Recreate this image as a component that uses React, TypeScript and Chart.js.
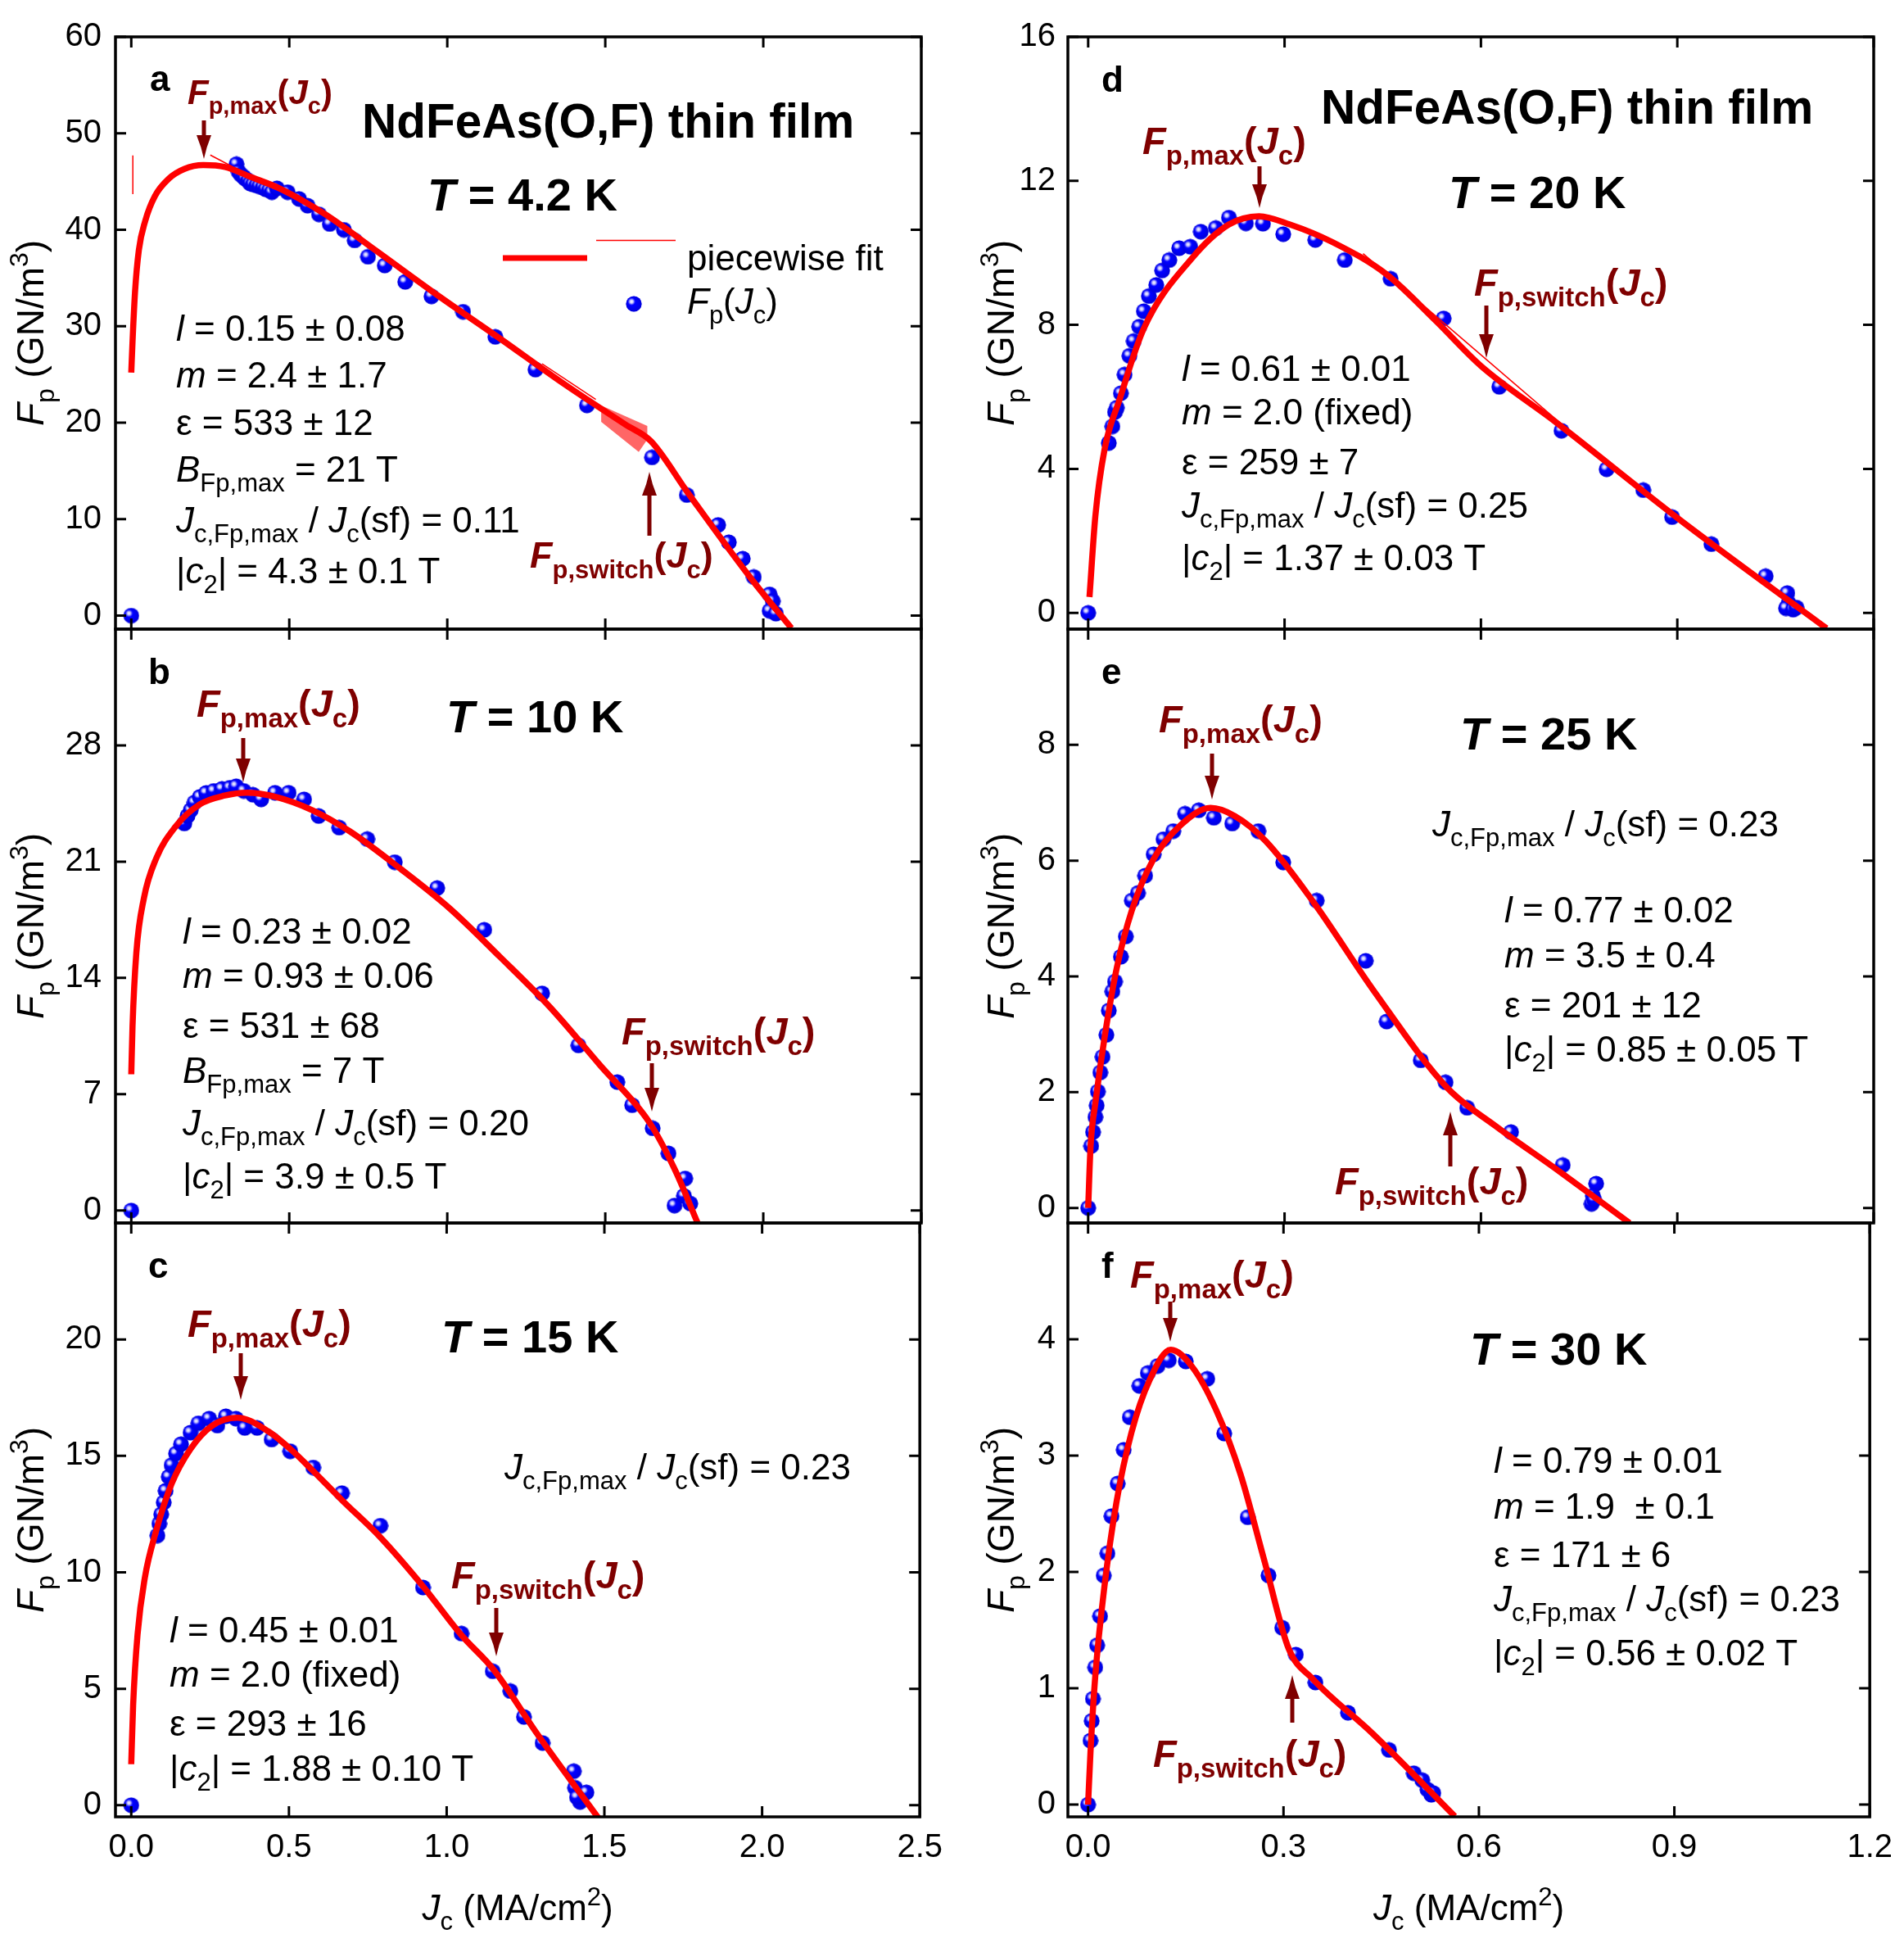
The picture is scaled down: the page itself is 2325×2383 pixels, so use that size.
import React, { useEffect, useRef } from 'react';
import { Chart, registerables } from 'chart.js';

Chart.register(...registerables);

const FONT = '"Liberation Sans", Arial, Helvetica, sans-serif';
const RED = '#ff0000';
const DARK_RED = '#7f0000';

// ---------------- data ----------------
const xTicksLeft = [0, 0.5, 1.0, 1.5, 2.0, 2.5];
const xTicksRight = [0, 0.3, 0.6, 0.9, 1.2];

const aYTicks = [0, 10, 20, 30, 40, 50, 60];
const bYTicks = [0, 7, 14, 21, 28];
const cYTicks = [0, 5, 10, 15, 20];
const dYTicks = [0, 4, 8, 12, 16];
const eYTicks = [0, 2, 4, 6, 8];
const fYTicks = [0, 1, 2, 3, 4];

// panel a, T = 4.2 K
const aPoints = [
  [0, 0], [0.333, 46.8], [0.34, 46.0], [0.347, 45.7], [0.355, 45.5], [0.36, 45.3], [0.37, 45.1],
  [0.376, 44.8], [0.385, 44.7], [0.396, 44.6], [0.405, 44.5], [0.416, 44.4], [0.425, 44.2],
  [0.436, 44.1], [0.445, 43.9], [0.461, 44.3], [0.495, 43.9], [0.531, 43.2], [0.558, 42.5],
  [0.594, 41.6], [0.628, 40.6], [0.673, 40.0], [0.707, 38.9], [0.749, 37.2], [0.802, 36.3],
  [0.867, 34.6], [0.95, 33.1], [1.05, 31.5], [1.152, 28.9], [1.279, 25.5], [1.442, 21.8],
  [1.648, 16.4], [1.758, 12.5], [1.857, 9.4], [1.891, 7.6], [1.935, 5.9], [1.97, 4.0],
  [2.02, 2.2], [2.03, 1.5], [2.02, 0.5], [2.04, 0.2],
];
const aFit = [
  [0, 25.2], [0.004, 28.4], [0.012, 33.6], [0.024, 37.9], [0.044, 40.9], [0.075, 43.5],
  [0.119, 45.3], [0.168, 46.3], [0.228, 46.7], [0.297, 46.5], [0.376, 45.5], [0.475, 44.2],
  [0.614, 41.6], [0.772, 37.9], [0.97, 33.2], [1.168, 28.7], [1.366, 24.1], [1.564, 19.8],
  [1.644, 18.1], [1.762, 12.7], [1.96, 3.9], [2.089, -1.3],
];
const aThin1 = [[0.005, 43.7], [0.005, 47.7]];
const aThin2 = [[0.25, 47.75], [0.319, 46.56]];
const aThin3 = [[1.3, 26.1], [1.47, 22.4]];
const aFan = [[1.487, 21.79], [1.633, 19.67], [1.633, 18.25], [1.606, 16.97], [1.487, 20.09]];

// panel b, T = 10 K
const bPoints = [
  [0, 0], [0.168, 23.3], [0.178, 23.75], [0.188, 24.1], [0.2, 24.56], [0.217, 24.9],
  [0.237, 25.14], [0.261, 25.26], [0.287, 25.38], [0.312, 25.45], [0.332, 25.54],
  [0.356, 25.26], [0.385, 25.03], [0.411, 24.75], [0.455, 25.15], [0.498, 25.15],
  [0.547, 24.75], [0.593, 23.75], [0.658, 23.05], [0.747, 22.36], [0.834, 20.97],
  [0.968, 19.41], [1.117, 16.9], [1.3, 13.07], [1.415, 9.94], [1.538, 7.73], [1.585, 6.34],
  [1.65, 4.95], [1.7, 3.44], [1.753, 1.93], [1.719, 0.3], [1.749, 0.88], [1.769, 0.42],
];
const bFit = [
  [0, 8.2], [0.004, 11.1], [0.016, 15.5], [0.04, 18.8], [0.079, 21.2], [0.138, 23.06],
  [0.217, 24.45], [0.296, 24.98], [0.366, 25.15], [0.455, 24.91], [0.573, 24.1],
  [0.692, 22.82], [0.85, 20.6], [1.008, 18.18], [1.166, 15.28], [1.324, 12.26],
  [1.482, 8.78], [1.64, 5.29], [1.719, 2.51], [1.792, -0.74],
];

// panel c, T = 15 K
const cPoints = [
  [0, 0], [0.083, 11.58], [0.089, 12.09], [0.095, 12.49], [0.103, 13.0], [0.109, 13.5],
  [0.119, 14.1], [0.128, 14.6], [0.142, 15.1], [0.158, 15.5], [0.188, 16.0], [0.213, 16.4],
  [0.247, 16.6], [0.273, 16.3], [0.3, 16.7], [0.332, 16.6], [0.36, 16.2], [0.399, 16.2],
  [0.445, 15.7], [0.504, 15.2], [0.577, 14.5], [0.668, 13.4], [0.79, 12.0], [0.925, 9.35],
  [1.047, 7.37], [1.146, 5.75], [1.202, 4.9], [1.245, 3.79], [1.304, 2.67], [1.403, 1.46],
  [1.407, 0.75], [1.443, 0.55], [1.423, 0.14], [1.413, 0.34],
];
const cFit = [
  [0, 1.76], [0.006, 4.29], [0.02, 7.33], [0.043, 9.76], [0.079, 11.78], [0.128, 13.8],
  [0.188, 15.3], [0.257, 16.3], [0.336, 16.64], [0.435, 16.05], [0.504, 15.3],
  [0.573, 14.4], [0.668, 13.1], [0.79, 11.5], [0.925, 9.4], [1.047, 7.3], [1.15, 5.8],
  [1.285, 3.1], [1.482, -0.57],
];

// panel d, T = 20 K
const dPoints = [
  [0, 0], [0.0315, 4.72], [0.037, 5.18], [0.041, 5.58], [0.0436, 5.7], [0.05, 6.1],
  [0.0556, 6.62], [0.063, 7.14], [0.0695, 7.55], [0.078, 7.95], [0.085, 8.38], [0.0927, 8.8],
  [0.104, 9.11], [0.113, 9.51], [0.124, 9.8], [0.139, 10.13], [0.156, 10.17], [0.172, 10.59],
  [0.195, 10.69], [0.215, 10.98], [0.241, 10.82], [0.267, 10.81], [0.298, 10.52],
  [0.347, 10.36], [0.392, 9.8], [0.462, 9.28], [0.543, 8.18], [0.628, 6.28], [0.723, 5.06],
  [0.792, 3.99], [0.848, 3.41], [0.892, 2.66], [0.952, 1.91], [1.035, 1.02], [1.068, 0.55],
  [1.07, 0.27], [1.066, 0.13], [1.077, 0.09], [1.082, 0.15],
];
const dFit = [
  [0.002, 0.44], [0.011, 2.69], [0.025, 4.54], [0.048, 5.93], [0.085, 7.9], [0.159, 9.86],
  [0.215, 10.79], [0.261, 11.02], [0.308, 10.79], [0.373, 10.3], [0.456, 9.4], [0.53, 8.13],
  [0.6, 6.86], [0.715, 5.29], [0.9, 2.64], [1.128, -0.43],
];
const dThin = [[0.42, 9.98], [0.79, 4.2]];

// panel e, T = 25 K
const ePoints = [
  [0, 0], [0.0046, 1.07], [0.0074, 1.31], [0.011, 1.57], [0.013, 1.77], [0.0148, 2.01],
  [0.0185, 2.34], [0.022, 2.61], [0.0278, 2.99], [0.0315, 3.41], [0.037, 3.74], [0.041, 3.91],
  [0.05, 4.34], [0.0575, 4.69], [0.0667, 5.31], [0.076, 5.44], [0.087, 5.74], [0.1, 6.11],
  [0.115, 6.37], [0.13, 6.51], [0.148, 6.81], [0.169, 6.87], [0.192, 6.74], [0.22, 6.64],
  [0.26, 6.51], [0.298, 5.97], [0.349, 5.31], [0.424, 4.27], [0.456, 3.22], [0.508, 2.55],
  [0.546, 2.17], [0.579, 1.73], [0.646, 1.31], [0.725, 0.74], [0.776, 0.42], [0.771, 0.21],
  [0.769, 0.07], [0.773, 0.14],
];
const eFit = [
  [0, 0], [0.0037, 1.07], [0.011, 1.81], [0.025, 2.94], [0.0436, 4.14], [0.0667, 5.14],
  [0.099, 6.01], [0.141, 6.61], [0.187, 6.91], [0.224, 6.77], [0.271, 6.34], [0.345, 5.27],
  [0.437, 3.74], [0.549, 2.07], [0.623, 1.41], [0.715, 0.67], [0.827, -0.26],
];

// panel f, T = 30 K
const fPoints = [
  [0, 0], [0.0037, 0.55], [0.0056, 0.72], [0.0074, 0.91], [0.011, 1.18], [0.0139, 1.37],
  [0.0185, 1.62], [0.024, 1.97], [0.0297, 2.16], [0.036, 2.48], [0.0454, 2.76], [0.0547, 3.05],
  [0.064, 3.33], [0.0788, 3.6], [0.0917, 3.71], [0.1066, 3.77], [0.124, 3.82], [0.15, 3.81],
  [0.183, 3.66], [0.209, 3.19], [0.245, 2.47], [0.277, 1.97], [0.298, 1.52], [0.319, 1.29],
  [0.349, 1.05], [0.399, 0.79], [0.462, 0.47], [0.5, 0.27], [0.513, 0.21], [0.521, 0.13],
  [0.527, 0.085], [0.53, 0.1],
];
const fFit = [
  [0, 0], [0.0037, 0.45], [0.011, 1.1], [0.025, 1.87], [0.0436, 2.6], [0.0667, 3.2],
  [0.0945, 3.65], [0.127, 3.91], [0.159, 3.77], [0.196, 3.4], [0.234, 2.84], [0.27, 2.11],
  [0.308, 1.34], [0.345, 1.08], [0.437, 0.61], [0.563, -0.1],
];

// ---------------- annotations (text content + layout relative to plot area) ----------------
type Ann =
  | { t: 'text'; x: number; y: number; s: string; size: number; bold?: boolean; color?: string }
  | { t: 'arrow'; x: number; y0: number; y1: number }
  | { t: 'seg'; x0: number; x1: number; y: number; w: number }
  | { t: 'ball'; x: number; y: number };

const FPMAX = '*F*_{p,max}(*J*_{c})';
const FPSW = '*F*_{p,switch}(*J*_{c})';
const TXT = 44;
const LET = 44;
const LBL = 47;
const BIG = 56;
const TITLE = 58.5;

const aAnn: Ann[] = [
  { t: 'text', x: 42, y: 66, s: 'a', size: LET, bold: true },
  { t: 'text', x: 88, y: 82, s: FPMAX, size: 42, bold: true, color: DARK_RED },
  { t: 'arrow', x: 108, y0: 102, y1: 149 },
  { t: 'text', x: 301, y: 123, s: 'NdFeAs(O,F) thin film', size: TITLE, bold: true },
  { t: 'text', x: 381, y: 212, s: '*T* = 4.2 K', size: BIG, bold: true },
  { t: 'seg', x0: 473, x1: 576, y: 270, w: 7 },
  { t: 'seg', x0: 587, x1: 684, y: 248.5, w: 1.5 },
  { t: 'text', x: 698, y: 285, s: 'piecewise fit', size: TXT },
  { t: 'ball', x: 633, y: 326 },
  { t: 'text', x: 698, y: 338, s: '*F*_{p}(*J*_{c})', size: TXT },
  { t: 'text', x: 74, y: 371, s: '*l* = 0.15 ± 0.08', size: TXT },
  { t: 'text', x: 74, y: 428, s: '*m* = 2.4 ± 1.7', size: TXT },
  { t: 'text', x: 74, y: 486, s: 'ε = 533 ± 12', size: TXT },
  { t: 'text', x: 74, y: 543, s: '*B*_{Fp,max} = 21 T', size: TXT },
  { t: 'text', x: 74, y: 605, s: '*J*_{c,Fp,max} / *J*_{c}(sf) = 0.11', size: TXT },
  { t: 'text', x: 74, y: 667, s: '|*c*_{2}| = 4.3 ± 0.1 T', size: TXT },
  { t: 'text', x: 506, y: 648, s: FPSW, size: 45, bold: true, color: DARK_RED },
  { t: 'arrow', x: 652, y0: 608, y1: 531 },
];

const bAnn: Ann[] = [
  { t: 'text', x: 40, y: 67, s: 'b', size: LET, bold: true },
  { t: 'text', x: 99, y: 107, s: FPMAX, size: LBL, bold: true, color: DARK_RED },
  { t: 'arrow', x: 156, y0: 133, y1: 187 },
  { t: 'text', x: 404, y: 126, s: '*T* = 10 K', size: BIG, bold: true },
  { t: 'text', x: 82, y: 384, s: '*l* = 0.23 ± 0.02', size: TXT },
  { t: 'text', x: 82, y: 438, s: '*m* = 0.93 ± 0.06', size: TXT },
  { t: 'text', x: 82, y: 499, s: 'ε = 531 ± 68', size: TXT },
  { t: 'text', x: 82, y: 554, s: '*B*_{Fp,max} = 7 T', size: TXT },
  { t: 'text', x: 82, y: 618, s: '*J*_{c,Fp,max} / *J*_{c}(sf) = 0.20', size: TXT },
  { t: 'text', x: 82, y: 683, s: '|*c*_{2}| = 3.9 ± 0.5 T', size: TXT },
  { t: 'text', x: 618, y: 507, s: FPSW, size: LBL, bold: true, color: DARK_RED },
  { t: 'arrow', x: 655, y0: 530, y1: 589 },
];

const cAnn: Ann[] = [
  { t: 'text', x: 40, y: 67, s: 'c', size: LET, bold: true },
  { t: 'text', x: 88, y: 139, s: FPMAX, size: LBL, bold: true, color: DARK_RED },
  { t: 'arrow', x: 153, y0: 159, y1: 216 },
  { t: 'text', x: 398, y: 158, s: '*T* = 15 K', size: BIG, bold: true },
  { t: 'text', x: 475, y: 313, s: '*J*_{c,Fp,max} / *J*_{c}(sf) = 0.23', size: TXT },
  { t: 'text', x: 66, y: 512, s: '*l* = 0.45 ± 0.01', size: TXT },
  { t: 'text', x: 66, y: 566, s: '*m* = 2.0 (fixed)', size: TXT },
  { t: 'text', x: 66, y: 626, s: 'ε = 293 ± 16', size: TXT },
  { t: 'text', x: 66, y: 681, s: '|*c*_{2}| = 1.88 ± 0.10 T', size: TXT },
  { t: 'text', x: 410, y: 446, s: FPSW, size: LBL, bold: true, color: DARK_RED },
  { t: 'arrow', x: 465, y0: 470, y1: 529 },
];

const dAnn: Ann[] = [
  { t: 'text', x: 41, y: 67, s: 'd', size: LET, bold: true },
  { t: 'text', x: 309, y: 106, s: 'NdFeAs(O,F) thin film', size: TITLE, bold: true },
  { t: 'text', x: 91, y: 143, s: FPMAX, size: LBL, bold: true, color: DARK_RED },
  { t: 'arrow', x: 234, y0: 158, y1: 209 },
  { t: 'text', x: 465, y: 209, s: '*T* = 20 K', size: BIG, bold: true },
  { t: 'text', x: 496, y: 316, s: FPSW, size: LBL, bold: true, color: DARK_RED },
  { t: 'arrow', x: 511, y0: 328, y1: 392 },
  { t: 'text', x: 139, y: 420, s: '*l* = 0.61 ± 0.01', size: TXT },
  { t: 'text', x: 139, y: 473, s: '*m* = 2.0 (fixed)', size: TXT },
  { t: 'text', x: 139, y: 534, s: 'ε = 259 ± 7', size: TXT },
  { t: 'text', x: 139, y: 587, s: '*J*_{c,Fp,max} / *J*_{c}(sf) = 0.25', size: TXT },
  { t: 'text', x: 139, y: 651, s: '|*c*_{2}| = 1.37 ± 0.03 T', size: TXT },
];

const eAnn: Ann[] = [
  { t: 'text', x: 41, y: 67, s: 'e', size: LET, bold: true },
  { t: 'text', x: 111, y: 126, s: FPMAX, size: LBL, bold: true, color: DARK_RED },
  { t: 'arrow', x: 176, y0: 152, y1: 208 },
  { t: 'text', x: 479, y: 147, s: '*T* = 25 K', size: BIG, bold: true },
  { t: 'text', x: 445, y: 253, s: '*J*_{c,Fp,max} / *J*_{c}(sf) = 0.23', size: TXT },
  { t: 'text', x: 533, y: 358, s: '*l* = 0.77 ± 0.02', size: TXT },
  { t: 'text', x: 533, y: 413, s: '*m* = 3.5 ± 0.4', size: TXT },
  { t: 'text', x: 533, y: 474, s: 'ε = 201 ± 12', size: TXT },
  { t: 'text', x: 533, y: 528, s: '|*c*_{2}| = 0.85 ± 0.05 T', size: TXT },
  { t: 'text', x: 326, y: 690, s: FPSW, size: LBL, bold: true, color: DARK_RED },
  { t: 'arrow', x: 467, y0: 655, y1: 589 },
];

const fAnn: Ann[] = [
  { t: 'text', x: 41, y: 67, s: 'f', size: LET, bold: true },
  { t: 'text', x: 76, y: 79, s: FPMAX, size: LBL, bold: true, color: DARK_RED },
  { t: 'arrow', x: 125, y0: 96, y1: 145 },
  { t: 'text', x: 491, y: 173, s: '*T* = 30 K', size: BIG, bold: true },
  { t: 'text', x: 520, y: 305, s: '*l* = 0.79 ± 0.01', size: TXT },
  { t: 'text', x: 520, y: 361, s: '*m* = 1.9  ± 0.1', size: TXT },
  { t: 'text', x: 520, y: 420, s: 'ε = 171 ± 6', size: TXT },
  { t: 'text', x: 520, y: 474, s: '*J*_{c,Fp,max} / *J*_{c}(sf) = 0.23', size: TXT },
  { t: 'text', x: 520, y: 540, s: '|*c*_{2}| = 0.56 ± 0.02 T', size: TXT },
  { t: 'text', x: 104, y: 664, s: FPSW, size: LBL, bold: true, color: DARK_RED },
  { t: 'arrow', x: 274, y0: 609, y1: 552 },
];

// ---------------- layout ----------------
type Panel = {
  key: string;
  area: { l: number; t: number; r: number; b: number };
  canvas: { x: number; y: number; w: number; h: number };
  xMin: number; xMax: number; xTicks: number[];
  yMin: number; yMax: number; yTicks: number[];
  points: number[][]; fit: number[][]; thin: number[][][]; fans: number[][][];
  showX: boolean; ann: Ann[]; yLabelPad: number; yTitleDx: number;
};

const LEFT = { l: 141, r: 1125, cx: 0, cw: 1165, pad: 17, title: -88 };
const RIGHT = { l: 1304, r: 2288, cx: 1165, cw: 1160, pad: 15, title: -66 };
const ROWS = [
  { t: 45, b: 768, cy: 0, ch: 828 },
  { t: 768, b: 1493, cy: 723, ch: 830 },
  { t: 1493, b: 2218, cy: 1448, ch: 935 },
];

function mk(col: typeof LEFT, row: typeof ROWS[0], rest: any): Panel {
  return {
    area: { l: col.l, r: col.r, t: row.t, b: row.b },
    canvas: { x: col.cx, y: row.cy, w: col.cw, h: row.ch },
    yLabelPad: col.pad,
    yTitleDx: col.title,
    thin: [], fans: [],
    ...rest,
  };
}

const PANELS: Panel[] = [
  mk(LEFT, ROWS[0], { key: 'a', xMin: -0.05, xMax: 2.5, xTicks: xTicksLeft, yMin: -1.4, yMax: 60, yTicks: aYTicks, points: aPoints, fit: aFit, thin: [aThin1, aThin2, aThin3], fans: [aFan], showX: false, ann: aAnn }),
  mk(LEFT, ROWS[1], { key: 'b', xMin: -0.05, xMax: 2.5, xTicks: xTicksLeft, yMin: -0.75, yMax: 35, yTicks: bYTicks, points: bPoints, fit: bFit, showX: false, ann: bAnn }),
  mk(LEFT, ROWS[2], { key: 'c', xMin: -0.05, xMax: 2.5, xTicks: xTicksLeft, yMin: -0.5, yMax: 25, yTicks: cYTicks, points: cPoints, fit: cFit, showX: true, ann: cAnn }),
  mk(RIGHT, ROWS[0], { key: 'd', xMin: -0.031, xMax: 1.2, xTicks: xTicksRight, yMin: -0.45, yMax: 16, yTicks: dYTicks, points: dPoints, fit: dFit, thin: [dThin], showX: false, ann: dAnn }),
  mk(RIGHT, ROWS[1], { key: 'e', xMin: -0.031, xMax: 1.2, xTicks: xTicksRight, yMin: -0.26, yMax: 10, yTicks: eYTicks, points: ePoints, fit: eFit, showX: false, ann: eAnn }),
  mk(RIGHT, ROWS[2], { key: 'f', xMin: -0.031, xMax: 1.2, xTicks: xTicksRight, yMin: -0.105, yMax: 5, yTicks: fYTicks, points: fPoints, fit: fFit, showX: true, ann: fAnn }),
];

const Y_W = 100;
const X_H = 70;

// ---------------- drawing helpers ----------------
type Run = { t: string; it: boolean; mode: number };

function parseRich(s: string): Run[] {
  const runs: Run[] = [];
  let it = false;
  let mode = 0;
  let buf = '';
  const push = () => {
    if (buf) runs.push({ t: buf, it, mode });
    buf = '';
  };
  for (let i = 0; i < s.length; i++) {
    const c = s[i];
    if (c === '*') { push(); it = !it; continue; }
    if ((c === '_' || c === '^') && s[i + 1] === '{') { push(); mode = c === '_' ? -1 : 1; i++; continue; }
    if (c === '}' && mode !== 0) { push(); mode = 0; continue; }
    buf += c;
  }
  push();
  return runs;
}

function drawRich(ctx: CanvasRenderingContext2D, s: string, x: number, y: number, size: number, bold: boolean, color: string, align: 'left' | 'center') {
  const runs = parseRich(s);
  const fontOf = (r: Run) => `${r.it ? 'italic ' : ''}${bold ? 'bold ' : ''}${r.mode ? Math.round(size * 0.7) : size}px ${FONT}`;
  const widths = runs.map((r) => { ctx.font = fontOf(r); return ctx.measureText(r.t).width; });
  const total = widths.reduce((a, b) => a + b, 0);
  let cx = align === 'center' ? x - total / 2 : x;
  ctx.fillStyle = color;
  ctx.textAlign = 'left';
  ctx.textBaseline = 'alphabetic';
  runs.forEach((r, i) => {
    ctx.font = fontOf(r);
    const dy = r.mode === -1 ? size * 0.28 : r.mode === 1 ? -size * 0.42 : 0;
    ctx.fillText(r.t, cx, y + dy);
    cx += widths[i];
  });
}

function drawArrow(ctx: CanvasRenderingContext2D, x: number, y0: number, y1: number) {
  const dir = Math.sign(y1 - y0);
  const headL = 29;
  const headW = 9;
  const base = y1 - dir * headL;
  ctx.fillStyle = DARK_RED;
  ctx.fillRect(x - 2.5, Math.min(y0, base), 5, Math.abs(base - y0) + 1);
  ctx.beginPath();
  ctx.moveTo(x - headW, base);
  ctx.quadraticCurveTo(x - 3, base + dir * headL * 0.5, x, y1);
  ctx.quadraticCurveTo(x + 3, base + dir * headL * 0.5, x + headW, base);
  ctx.closePath();
  ctx.fill();
}

let BALL: HTMLCanvasElement | null = null;
function ball(): HTMLCanvasElement {
  if (BALL) return BALL;
  const d = 20;
  const c = document.createElement('canvas');
  c.width = d;
  c.height = d;
  const g = c.getContext('2d')!;
  const r = d / 2;
  g.fillStyle = '#0000ff';
  g.beginPath();
  g.arc(r, r, r - 0.4, 0, Math.PI * 2);
  g.fill();
  const shade = g.createRadialGradient(r * 0.8, r * 0.8, r * 0.5, r, r, r);
  shade.addColorStop(0, 'rgba(0,0,120,0)');
  shade.addColorStop(1, 'rgba(0,0,150,0.35)');
  g.fillStyle = shade;
  g.beginPath();
  g.arc(r, r, r - 0.4, 0, Math.PI * 2);
  g.fill();
  const hl = g.createRadialGradient(d * 0.36, d * 0.36, 0, d * 0.36, d * 0.36, d * 0.24);
  hl.addColorStop(0, 'rgba(255,255,255,1)');
  hl.addColorStop(0.45, 'rgba(200,200,255,0.95)');
  hl.addColorStop(1, 'rgba(120,120,255,0)');
  g.fillStyle = hl;
  g.beginPath();
  g.arc(d * 0.36, d * 0.36, d * 0.24, 0, Math.PI * 2);
  g.fill();
  BALL = c;
  return c;
}

const toXY = (arr: number[][]) => arr.map(([x, y]) => ({ x, y }));

function buildChart(canvas: HTMLCanvasElement, p: Panel) {
  const datasets: any[] = [
    {
      data: toXY(p.points),
      showLine: false,
      pointStyle: ball(),
      pointRadius: 9,
      order: 3,
    },
    ...p.thin.map((seg) => ({
      data: toXY(seg),
      showLine: true,
      borderColor: RED,
      borderWidth: 1.5,
      pointRadius: 0,
      order: 2,
    })),
    {
      data: toXY(p.fit),
      showLine: true,
      borderColor: RED,
      borderWidth: 7.5,
      pointRadius: 0,
      cubicInterpolationMode: 'monotone',
      borderJoinStyle: 'round',
      order: 1,
    },
  ];

  const deco = {
    id: 'deco',
    beforeDatasetsDraw(chart: any) {
      const { ctx, chartArea: a, scales } = chart;
      ctx.save();
      ctx.beginPath();
      ctx.rect(a.left, a.top, a.right - a.left, a.bottom - a.top);
      ctx.clip();
      p.fans.forEach((poly) => {
        ctx.beginPath();
        poly.forEach(([vx, vy], i) => {
          const px = scales.x.getPixelForValue(vx);
          const py = scales.y.getPixelForValue(vy);
          if (i === 0) ctx.moveTo(px, py); else ctx.lineTo(px, py);
        });
        ctx.closePath();
        ctx.fillStyle = 'rgba(255,0,0,0.6)';
        ctx.fill();
      });
      ctx.restore();
    },
    afterDraw(chart: any) {
      const { ctx, chartArea: a, scales } = chart;
      ctx.save();
      ctx.strokeStyle = '#000';
      ctx.lineWidth = 3;
      ctx.lineCap = 'butt';
      const TL = 13;
      p.xTicks.forEach((v) => {
        const px = scales.x.getPixelForValue(v);
        ctx.beginPath();
        ctx.moveTo(px, a.bottom); ctx.lineTo(px, a.bottom - TL);
        ctx.moveTo(px, a.top); ctx.lineTo(px, a.top + TL);
        ctx.stroke();
      });
      p.yTicks.forEach((v) => {
        const py = scales.y.getPixelForValue(v);
        ctx.beginPath();
        ctx.moveTo(a.left, py); ctx.lineTo(a.left + TL, py);
        ctx.moveTo(a.right, py); ctx.lineTo(a.right - TL, py);
        ctx.stroke();
      });
      ctx.lineWidth = 3.5;
      ctx.strokeRect(a.left, a.top, a.right - a.left, a.bottom - a.top);

      // y axis title
      ctx.save();
      ctx.translate(a.left + p.yTitleDx, (a.top + a.bottom) / 2);
      ctx.rotate(-Math.PI / 2);
      drawRich(ctx, '*F*_{p} (GN/m^{3})', 0, 0, 46, false, '#000', 'center');
      ctx.restore();

      if (p.showX) {
        drawRich(ctx, '*J*_{c} (MA/cm^{2})', (a.left + a.right) / 2, a.bottom + 126, 44, false, '#000', 'center');
      }

      p.ann.forEach((an) => {
        if (an.t === 'text') {
          drawRich(ctx, an.s, a.left + an.x, a.top + an.y, an.size, !!an.bold, an.color || '#000', 'left');
        } else if (an.t === 'arrow') {
          drawArrow(ctx, a.left + an.x, a.top + an.y0, a.top + an.y1);
        } else if (an.t === 'seg') {
          ctx.strokeStyle = RED;
          ctx.lineWidth = an.w;
          ctx.beginPath();
          ctx.moveTo(a.left + an.x0, a.top + an.y);
          ctx.lineTo(a.left + an.x1, a.top + an.y);
          ctx.stroke();
        } else if (an.t === 'ball') {
          const b = ball();
          ctx.drawImage(b, a.left + an.x - b.width / 2, a.top + an.y - b.height / 2);
        }
      });
      ctx.restore();
    },
  };

  const pad = {
    left: p.area.l - p.canvas.x - Y_W,
    top: p.area.t - p.canvas.y,
    right: p.canvas.x + p.canvas.w - p.area.r,
    bottom: p.canvas.y + p.canvas.h - p.area.b - (p.showX ? X_H : 0),
  };

  return new Chart(canvas, {
    type: 'scatter',
    data: { datasets },
    options: {
      responsive: false,
      animation: false,
      devicePixelRatio: 1,
      events: [],
      layout: { padding: pad },
      plugins: { legend: { display: false }, tooltip: { enabled: false } },
      scales: {
        x: {
          type: 'linear',
          position: 'bottom',
          min: p.xMin,
          max: p.xMax,
          grid: { display: false, drawTicks: false },
          border: { display: false },
          afterBuildTicks: (s: any) => { s.ticks = p.xTicks.map((v) => ({ value: v })); },
          afterFit: (s: any) => { s.height = p.showX ? X_H : 0; },
          ticks: {
            display: p.showX,
            autoSkip: false,
            maxRotation: 0,
            minRotation: 0,
            padding: 14,
            color: '#000',
            font: { family: FONT, size: 40 },
            callback: (v: any) => Number(v).toFixed(1),
          },
        },
        y: {
          type: 'linear',
          position: 'left',
          min: p.yMin,
          max: p.yMax,
          grid: { display: false, drawTicks: false },
          border: { display: false },
          afterBuildTicks: (s: any) => { s.ticks = p.yTicks.map((v) => ({ value: v })); },
          afterFit: (s: any) => { s.width = Y_W; },
          ticks: {
            autoSkip: false,
            padding: p.yLabelPad,
            color: '#000',
            font: { family: FONT, size: 40 },
            callback: (v: any) => String(v),
          },
        },
      },
    },
    plugins: [deco],
  } as any);
}

function PanelView({ p }: { p: Panel }) {
  const ref = useRef<HTMLCanvasElement>(null);
  useEffect(() => {
    if (!ref.current) return;
    const chart = buildChart(ref.current, p);
    return () => chart.destroy();
  }, [p]);
  return (
    <canvas
      ref={ref}
      width={p.canvas.w}
      height={p.canvas.h}
      style={{ position: 'absolute', left: p.canvas.x, top: p.canvas.y, width: p.canvas.w, height: p.canvas.h }}
    />
  );
}

export default function App() {
  return (
    <div style={{ position: 'absolute', left: 0, top: 0, width: 2325, height: 2383, background: '#ffffff', overflow: 'hidden' }}>
      {PANELS.map((p) => (
        <PanelView key={p.key} p={p} />
      ))}
    </div>
  );
}
